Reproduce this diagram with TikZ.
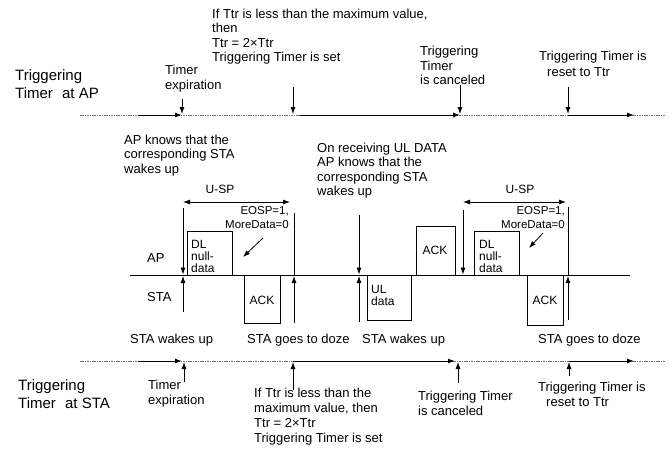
\documentclass[tikz,border=0pt]{standalone}
\usepackage{fontspec}
\setmainfont{Liberation Sans}
\usetikzlibrary{arrows.meta}
\begin{document}
\begin{tikzpicture}[x=1pt,y=-1pt,
  txt/.style={font=\fontsize{13}{14.5}\selectfont,align=left,inner sep=0pt,anchor=north west},
  bigtxt/.style={font=\fontsize{15}{18}\selectfont,align=left,inner sep=0pt,anchor=north west},
  smtxt/.style={font=\fontsize{12}{12}\selectfont,align=left,inner sep=0pt,anchor=north west},
  eosp/.style={font=\fontsize{11.5}{14.5}\selectfont,align=right,inner sep=0pt,anchor=north east},
  tl/.style={draw=black!55,line width=0.6pt,dash pattern=on 1.6pt off 0.8pt},
  seg/.style={draw=black,line width=1pt,-{Latex[length=7pt,width=5pt]}},
  arr/.style={draw=black,line width=0.8pt,-{Latex[length=7pt,width=5pt]}},
  dbl/.style={draw=black,line width=0.8pt,{Latex[length=7pt,width=5pt]}-{Latex[length=7pt,width=5pt]}},
  pl/.style={draw=black,line width=0.8pt},
  frame/.style={draw=black,line width=0.7pt}]
\useasboundingbox (0,0) rectangle (672,448);

% ---------- top timeline (AP) ----------
\coordinate (t0) at (80,115);  \coordinate (t9) at (665,115);
\draw[tl] (t0) -- (t9);
\coordinate (ta1) at (138,115); \coordinate (ta2) at (182,115);
\coordinate (tb1) at (300,115); \coordinate (tb2) at (460,115);
\coordinate (tc1) at (568,115); \coordinate (tc2) at (634,115);
\draw[seg] (ta1) -- (ta2);
\draw[seg] (tb1) -- (tb2);
\draw[seg] (tc1) -- (tc2);
\coordinate (d1s) at (182,99);  \coordinate (d1e) at (182,114);
\coordinate (d2s) at (293,87);  \coordinate (d2e) at (293,114);
\coordinate (d3s) at (460,85);  \coordinate (d3e) at (460,114);
\coordinate (d4s) at (568,87);  \coordinate (d4e) at (568,114);
\draw[arr] (d1s) -- (d1e);
\draw[arr] (d2s) -- (d2e);
\draw[arr] (d3s) -- (d3e);
\draw[arr] (d4s) -- (d4e);

\node[bigtxt] (apT) at (15,69) {Triggering\\Timer\hspace{5pt} at AP};
\node[txt] (exp1) at (165,65) {Timer\\expiration};
\node[txt] (if1) at (212,8.5) {If Ttr is less than the maximum value,\\then\\Ttr = 2×Ttr\\Triggering Timer is set};
\node[txt] (can1) at (420,46) {Triggering\\Timer\\is canceled};
\node[txt,font=\fontsize{13}{15.5}\selectfont] (res1) at (539,51) {Triggering Timer is\\\hspace*{8pt}reset to Ttr};

% ---------- middle (AP / STA exchange) ----------
\coordinate (m0) at (130,275); \coordinate (m9) at (630,275);
\draw[pl] (m0) -- (m9);
\node[txt,anchor=west] (lap) at (147,258) {AP};
\node[txt,anchor=west] (lsta) at (147,297) {STA};

\node[txt] (apk) at (124,134.5) {AP knows that the\\corresponding STA\\wakes up};
\node[txt] (onr) at (317,142.5) {On receiving UL DATA\\AP knows that the\\corresponding STA\\wakes up};

% first U-SP
\draw[arr] (183,208) -- (183,274.5);
\draw[arr] (183,312) -- (183,276);
\draw[dbl] (183,202) -- (290,202);
\node[smtxt,anchor=center] (usp1) at (220,189) {U-SP};
\draw[pl] (294,213) -- (294,276);
\draw[arr] (294,323) -- (294,276);
\node[eosp] (eo1) at (289,206) {EOSP=1,\\MoreData=0};
\draw[arr] (263,238) -- (243,257);
\draw[frame] (187,275) |- (232,231) -- (232,275);
\node[smtxt] (dl1) at (191,240) {DL\\null-\\data};
\draw[frame] (244,275) |- (280,323) -- (280,275);
\node[smtxt,anchor=center] (ack1) at (262,300) {ACK};

% UL data
\draw[arr] (359,215) -- (359,274.5);
\draw[arr] (359,322) -- (359,276);
\draw[frame] (367,275) |- (411,320) -- (411,275);
\node[smtxt] (ul) at (371,285.5) {UL\\data};
\draw[frame] (416,275) |- (455,226) -- (455,275);
\node[smtxt,anchor=center] (ack2) at (435,250) {ACK};

% second U-SP
\draw[arr] (463,210) -- (463,274.5);
\draw[dbl] (463,202) -- (566,202);
\node[smtxt,anchor=center] (usp2) at (520,189) {U-SP};
\draw[pl] (568,207) -- (568,276);
\draw[arr] (568,320) -- (568,276);
\node[eosp] (eo2) at (565,206) {EOSP=1,\\MoreData=0};
\draw[arr] (543,233) -- (529,248);
\draw[frame] (474,275) |- (519,231) -- (519,275);
\node[smtxt] (dl2) at (479,240) {DL\\null-\\data};
\draw[frame] (527,275) |- (563,325) -- (563,275);
\node[smtxt,anchor=center] (ack3) at (545,300) {ACK};

% ---------- bottom labels ----------
\node[txt,anchor=west] (w1) at (130,340) {STA wakes up};
\node[txt,anchor=west] (z1) at (247,340) {STA goes to doze};
\node[txt,anchor=west] (w2) at (362,340) {STA wakes up};
\node[txt,anchor=west] (z2) at (538,340) {STA goes to doze};

% ---------- bottom timeline (STA) ----------
\coordinate (b0) at (80,361);  \coordinate (b9) at (665,361);
\draw[tl] (b0) -- (b9);
\coordinate (ba1) at (138,361); \coordinate (ba2) at (182,361);
\coordinate (bb1) at (293,361); \coordinate (bb2) at (455,361);
\coordinate (bc1) at (569,361); \coordinate (bc2) at (634,361);
\draw[seg] (ba1) -- (ba2);
\draw[seg] (bb1) -- (bb2);
\draw[seg] (bc1) -- (bc2);
\draw[arr] (184,382) -- (184,362);
\draw[arr] (293,390) -- (293,362);
\draw[arr] (458,383) -- (458,362);
\draw[arr] (569,376) -- (569,362);

\node[bigtxt] (staT) at (18,379.5) {Triggering\\Timer\hspace{5pt} at STA};
\node[txt] (exp2) at (148,380) {Timer\\expiration};
\node[txt,font=\fontsize{13}{15}\selectfont] (if2) at (254,387.5) {If Ttr is less than the\\maximum value, then\\Ttr = 2×Ttr\\Triggering Timer is set};
\node[txt] (can2) at (418,391) {Triggering Timer\\is canceled};
\node[txt,font=\fontsize{13}{15}\selectfont] (res2) at (538,382) {Triggering Timer is\\\hspace*{8pt}reset to Ttr};
\end{tikzpicture}
\end{document}
